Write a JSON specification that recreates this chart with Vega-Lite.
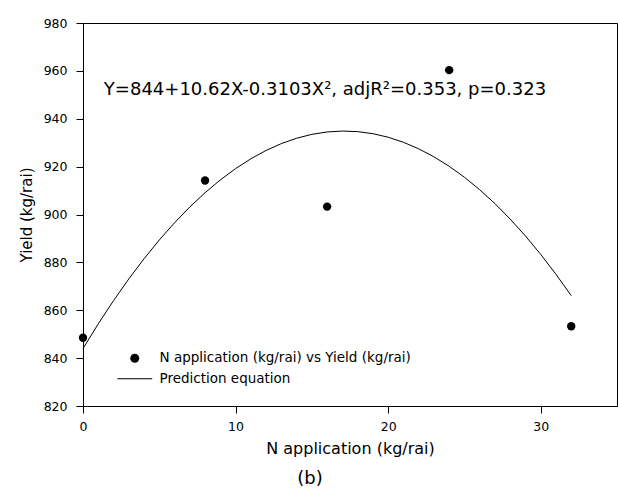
{
  "$schema": "https://vega.github.io/schema/vega-lite/v6.json",
  "width": 534,
  "height": 383,
  "autosize": {"type": "none"},
  "padding": {"left": 83, "top": 23, "right": 1, "bottom": 90},
  "background": "white",
  "config": {
    "font": "DejaVu Sans",
    "view": {"stroke": "#000", "strokeWidth": 1},
    "axis": {
      "grid": false,
      "domainColor": "#000",
      "tickColor": "#000",
      "labelColor": "#000",
      "titleColor": "#000",
      "labelFont": "DejaVu Sans",
      "titleFont": "DejaVu Sans",
      "labelFontSize": 12.5,
      "labelFlush": false,
      "titleFontWeight": "normal",
      "tickSize": 7,
      "domainWidth": 1,
      "tickWidth": 1
    }
  },
  "title": {
    "text": "(b)",
    "orient": "bottom",
    "anchor": "middle",
    "frame": "bounds",
    "fontSize": 18,
    "fontWeight": "normal",
    "font": "DejaVu Sans",
    "color": "#000",
    "offset": 13,
    "dx": -8
  },
  "datasets": {
    "observed": [
      {"N": 0, "Yield": 848.5, "series": "N application (kg/rai) vs Yield (kg/rai)"},
      {"N": 8, "Yield": 914.2, "series": "N application (kg/rai) vs Yield (kg/rai)"},
      {"N": 16, "Yield": 903.3, "series": "N application (kg/rai) vs Yield (kg/rai)"},
      {"N": 24, "Yield": 960.3, "series": "N application (kg/rai) vs Yield (kg/rai)"},
      {"N": 32, "Yield": 853.3, "series": "N application (kg/rai) vs Yield (kg/rai)"}
    ],
    "fitted": [
      {"N": 0, "Yield": 844.00}, {"N": 1, "Yield": 854.31}, {"N": 2, "Yield": 864.00},
      {"N": 3, "Yield": 873.07}, {"N": 4, "Yield": 881.52}, {"N": 5, "Yield": 889.34},
      {"N": 6, "Yield": 896.55}, {"N": 7, "Yield": 903.14}, {"N": 8, "Yield": 909.10},
      {"N": 9, "Yield": 914.45}, {"N": 10, "Yield": 919.17}, {"N": 11, "Yield": 923.27},
      {"N": 12, "Yield": 926.76}, {"N": 13, "Yield": 929.62}, {"N": 14, "Yield": 931.86},
      {"N": 15, "Yield": 933.48}, {"N": 16, "Yield": 934.48}, {"N": 17, "Yield": 934.86},
      {"N": 18, "Yield": 934.62}, {"N": 19, "Yield": 933.76}, {"N": 20, "Yield": 932.28},
      {"N": 21, "Yield": 930.18}, {"N": 22, "Yield": 927.45}, {"N": 23, "Yield": 924.11},
      {"N": 24, "Yield": 920.15}, {"N": 25, "Yield": 915.56}, {"N": 26, "Yield": 910.36},
      {"N": 27, "Yield": 904.53}, {"N": 28, "Yield": 898.08}, {"N": 29, "Yield": 891.02},
      {"N": 30, "Yield": 883.33}, {"N": 31, "Yield": 875.02}, {"N": 32, "Yield": 866.09}
    ]
  },
  "layer": [
    {
      "data": {"name": "fitted"},
      "mark": {"type": "line", "color": "#000", "strokeWidth": 1},
      "encoding": {
        "x": {
          "field": "N",
          "type": "quantitative",
          "scale": {"domain": [0, 35], "nice": false},
          "axis": {
            "values": [0, 10, 20, 30],
            "format": "d",
            "title": "N application (kg/rai)",
            "titleFontSize": 16,
            "labelPadding": 7,
            "titlePadding": 8
          }
        },
        "y": {
          "field": "Yield",
          "type": "quantitative",
          "scale": {"domain": [820, 980], "nice": false, "zero": false},
          "axis": {
            "values": [820, 840, 860, 880, 900, 920, 940, 960, 980],
            "format": "d",
            "title": "Yield (kg/rai)",
            "titleFontSize": 15,
            "labelPadding": 9,
            "titlePadding": 9
          }
        }
      }
    },
    {
      "data": {"name": "observed"},
      "mark": {"type": "point", "filled": true, "color": "#000", "size": 70, "opacity": 1},
      "encoding": {
        "x": {"field": "N", "type": "quantitative"},
        "y": {"field": "Yield", "type": "quantitative"},
        "shape": {
          "field": "series",
          "type": "nominal",
          "scale": {
            "domain": ["N application (kg/rai) vs Yield (kg/rai)", "Prediction equation"],
            "range": ["circle", "M-3.9,-0.12H3.9V0.12H-3.9Z"]
          },
          "legend": {
            "title": null,
            "orient": "none",
            "legendX": 45,
            "legendY": 328.5,
            "padding": 0,
            "labelFont": "DejaVu Sans",
            "labelFontSize": 13.5,
            "labelColor": "#000",
            "labelOffset": 18,
            "labelLimit": 400,
            "symbolSize": 80,
            "symbolStrokeWidth": 0,
            "symbolFillColor": "#000",
            "rowPadding": 5.5,
            "encode": {
              "symbols": {
                "fill": {"value": "#000"},
                "opacity": {"value": 1}
              }
            }
          }
        }
      }
    },
    {
      "data": {"values": [{}]},
      "mark": {
        "type": "text",
        "font": "DejaVu Sans",
        "fontSize": 18,
        "color": "#000",
        "align": "center",
        "baseline": "middle"
      },
      "encoding": {
        "x": {"datum": 15.86},
        "y": {"datum": 952.1},
        "text": {"value": "Y=844+10.62X-0.3103X², adjR²=0.353, p=0.323"}
      }
    }
  ]
}
